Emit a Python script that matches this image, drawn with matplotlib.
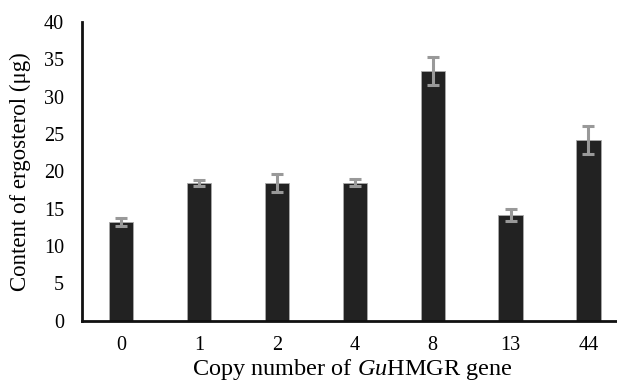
import numpy as np
import matplotlib.pyplot as plt

plt.rcParams['font.family'] = ['Liberation Serif', 'DejaVu Serif']
plt.rcParams['mathtext.fontset'] = 'custom'
plt.rcParams['mathtext.it'] = 'Liberation Serif:italic'
plt.rcParams['mathtext.rm'] = 'Liberation Serif'

copies = ['0', '1', '2', '4', '8', '13', '44']
content = [13.2, 18.5, 18.5, 18.5, 33.4, 14.2, 24.2]
errors = [0.5, 0.4, 1.2, 0.5, 1.9, 0.8, 1.9]

fig = plt.figure(figsize=(6.17, 3.82), dpi=100)
ax = fig.add_axes([0.133, 0.16, 0.875, 0.783])

X = np.arange(len(copies))
ax.bar(X, content, width=0.31, color='#222222', edgecolor='#aaaaaa', linewidth=0.6,
       yerr=errors, error_kw=dict(ecolor='#999999', elinewidth=2.2, capsize=4, capthick=2.2))

ax.set_xlim(-0.5, 6.43)
ax.set_ylim(0, 40)
ax.set_yticks(range(0, 41, 5))
ax.set_xticks(X)
ax.set_xticklabels(copies)
ax.tick_params(length=0, labelsize=14.5)
ax.tick_params(axis='x', pad=11)
ax.tick_params(axis='y', pad=13)

for s in ['top', 'right']:
    ax.spines[s].set_visible(False)
for s in ['left', 'bottom']:
    ax.spines[s].set_linewidth(2)
    ax.spines[s].set_color('#111111')

ax.set_ylabel('Content of ergosterol (μg)', fontsize=16.5, labelpad=9)
ax.set_xlabel('Copy number of $\\mathit{Gu}$HMGR gene', fontsize=17.5, labelpad=1)

fig.savefig('out.png', dpi=100)
